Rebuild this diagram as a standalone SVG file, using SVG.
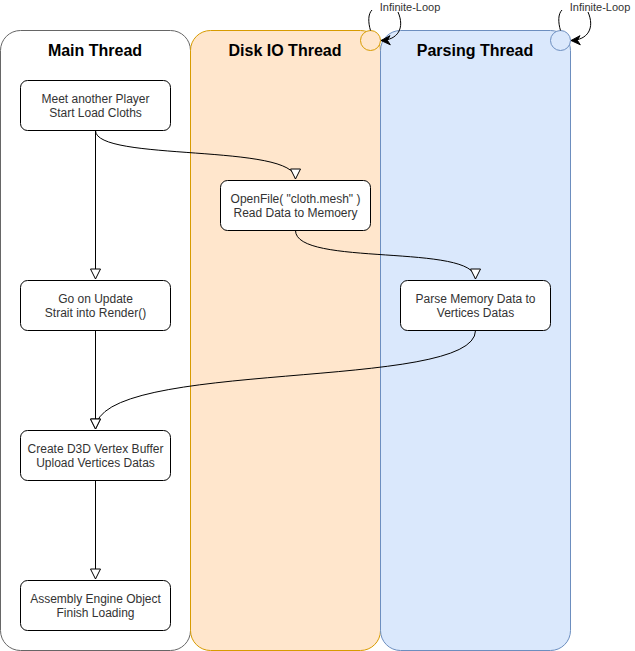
<svg xmlns="http://www.w3.org/2000/svg" width="635" height="651" viewBox="0 0 635 651">
<defs>
<style>
.lane-title{font-family:"Liberation Sans",Arial,sans-serif;font-size:16px;font-weight:bold;fill:#000;text-anchor:middle}
.node rect{fill:#fff;stroke:#000;stroke-width:1}
.node text{font-family:"Liberation Sans",Arial,sans-serif;font-size:12px;fill:#333;text-anchor:middle}
.edge{fill:none;stroke:#000;stroke-width:1}
.loop-label{font-family:"Liberation Sans",Arial,sans-serif;font-size:11px;fill:#333;text-anchor:middle}
</style>
<marker id="open" viewBox="0 0 12 12" refX="11" refY="6" markerWidth="12" markerHeight="12" markerUnits="userSpaceOnUse" orient="auto">
<path d="M1,1 L11,6 L1,11 Z" fill="#fff" stroke="#000" stroke-width="1"/>
</marker>
<marker id="filled" viewBox="0 0 12 12" refX="11" refY="6" markerWidth="11" markerHeight="11" markerUnits="userSpaceOnUse" orient="auto">
<path d="M1,1 L11,6 L1,11 L4,6 Z" fill="#000" stroke="#000" stroke-width="1"/>
</marker>
</defs>
<g id="lane-main">
<rect x="0.5" y="30.5" width="190" height="620" rx="20" fill="#fff" stroke="#666"/>
<text class="lane-title" x="95" y="56">Main Thread</text>
</g>
<g id="lane-disk">
<rect x="190.5" y="30.5" width="190" height="620" rx="20" fill="#ffe6cc" stroke="#d79b00"/>
<text class="lane-title" x="285" y="56">Disk IO Thread</text>
<circle cx="370.5" cy="40.5" r="10" fill="#ffe6cc" stroke="#d79b00"/>
</g>
<g id="lane-parse">
<rect x="380.5" y="30.5" width="190" height="620" rx="20" fill="#dae8fc" stroke="#6c8ebf"/>
<text class="lane-title" x="475" y="56">Parsing Thread</text>
<circle cx="560.5" cy="40.5" r="10" fill="#dae8fc" stroke="#6c8ebf"/>
</g>
<g id="connectors">
<path class="edge" d="M95.5,130.5 L95.5,279" marker-end="url(#open)"/>
<path class="edge" d="M95.5,130.5 C95.5,162 295.5,143 295.5,179" marker-end="url(#open)"/>
<path class="edge" d="M295.5,230.5 C295.5,267 475.5,243 475.5,279" marker-end="url(#open)"/>
<path class="edge" d="M95.5,330.5 L95.5,429" marker-end="url(#open)"/>
<path class="edge" d="M475.5,330.5 C475.5,392 95.5,358 95.5,429" marker-end="url(#open)"/>
<path class="edge" d="M95.5,480.5 L95.5,579" marker-end="url(#open)"/>
<path class="edge" d="M370.5,30.5 C368,22 368,14 372,10" />
<path class="edge" d="M398,12 C405,28 398,40 381,40.5" marker-end="url(#filled)"/>
<path class="edge" d="M560.5,30.5 C558,22 558,14 562,10" />
<path class="edge" d="M588,12 C595,28 588,40 571,40.5" marker-end="url(#filled)"/>
</g>
<g id="loop-label-disk"><text class="loop-label" x="410" y="11">Infinite-Loop</text></g>
<g id="loop-label-parse"><text class="loop-label" x="600" y="11">Infinite-Loop</text></g>
<g id="n1" class="node"><rect x="20.5" y="80.5" width="150" height="50" rx="7"/><text x="95.5" y="103">Meet another Player</text><text x="95.5" y="117">Start Load Cloths</text></g>
<g id="n2" class="node"><rect x="220.5" y="180.5" width="150" height="50" rx="7"/><text x="295.5" y="203">OpenFile( "cloth.mesh" )</text><text x="295.5" y="217">Read Data to Memoery</text></g>
<g id="n3" class="node"><rect x="20.5" y="280.5" width="150" height="50" rx="7"/><text x="95.5" y="303">Go on Update</text><text x="95.5" y="317">Strait into Render()</text></g>
<g id="n4" class="node"><rect x="400.5" y="280.5" width="150" height="50" rx="7"/><text x="475.5" y="303">Parse Memory Data to</text><text x="475.5" y="317">Vertices Datas</text></g>
<g id="n5" class="node"><rect x="20.5" y="430.5" width="150" height="50" rx="7"/><text x="95.5" y="453">Create D3D Vertex Buffer</text><text x="95.5" y="467">Upload Vertices Datas</text></g>
<g id="n6" class="node"><rect x="20.5" y="580.5" width="150" height="50" rx="7"/><text x="95.5" y="603">Assembly Engine Object</text><text x="95.5" y="617">Finish Loading</text></g>
</svg>
